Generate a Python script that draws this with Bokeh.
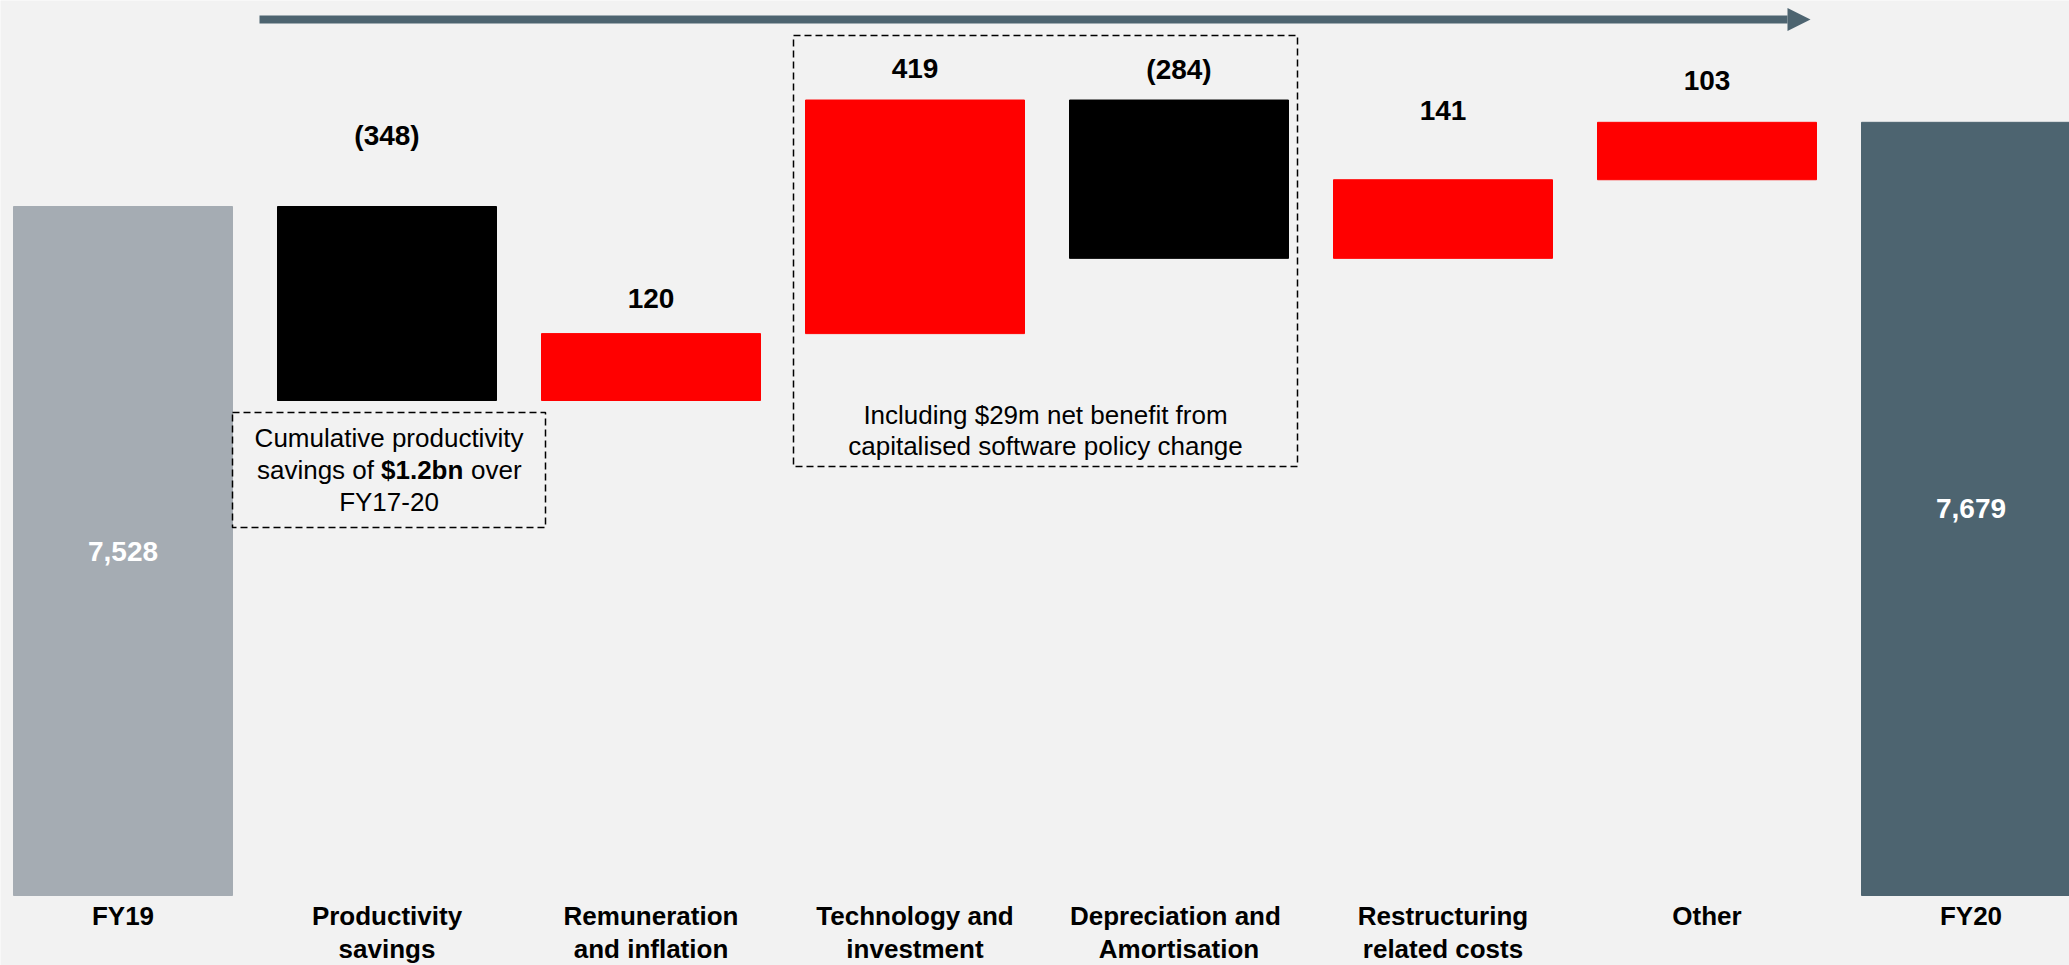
from bokeh.plotting import figure
from bokeh.models import Range1d, FixedTicker, BoxAnnotation, Arrow, NormalHead, ColumnDataSource
from bokeh.core.properties import value
from bokeh.embed import file_html
from bokeh.resources import INLINE

# ---------------- data ----------------
categories = ["FY19", "Productivity\nsavings", "Remuneration\nand inflation",
              "Technology and\ninvestment", "Depreciation  and\nAmortisation",
              "Restructuring\nrelated costs", "Other", "FY20"]
start_total = 7528
changes = [-348, 120, 419, -284, 141, 103]
end_total = 7679
value_labels = ["7,528", "(348)", "120", "419", "(284)", "141", "103", "7,679"]

# ---------------- layout / style ----------------
W, H = 2069, 965
UNIT_PX = 0.5575         # px per $m
STEP_PX = 264            # px per category
X0_PAGE = 122.5          # page x of first category centre
Y_TOP = 7528 + 206 / UNIT_PX   # value at top edge of the frame

def xv(px):
    return (px - X0_PAGE) / STEP_PX

def yv(px):
    return Y_TOP - px / UNIT_PX

BASE = yv(895)           # visual base of the total bars (broken axis)

BG = "#f2f2f2"
C_START = "#a5acb3"
C_END = "#4d6470"
C_UP = "#ff0000"
C_DOWN = "#000000"
FONT = "Liberation Sans"

# ---------------- build bars ----------------
xs, bottoms, tops, colors = [], [], [], []
xs.append(0); bottoms.append(BASE); tops.append(start_total); colors.append(C_START)
level = start_total
for i, c in enumerate(changes):
    new = level + c
    xs.append(i + 1)
    bottoms.append(min(level, new)); tops.append(max(level, new))
    colors.append(C_UP if c > 0 else C_DOWN)
    level = new
xs.append(len(changes) + 1); bottoms.append(BASE); tops.append(end_total); colors.append(C_END)

bars = ColumnDataSource(dict(x=xs, bottom=bottoms, top=tops, color=colors))

p = figure(width=W, height=H, output_backend="svg", toolbar_location=None,
           x_range=Range1d(xv(0), xv(W)), y_range=Range1d(yv(H), yv(0)),
           y_axis_location=None, min_border=0)
p.background_fill_color = BG
p.border_fill_color = BG
p.outline_line_color = None
p.grid.visible = False

p.vbar(x="x", bottom="bottom", top="top", width=219 / STEP_PX, fill_color="color",
       line_color="color", source=bars)

# x axis with category labels, pinned at the base of the bars
ax = p.xaxis[0]
ax.fixed_location = BASE
ax.ticker = FixedTicker(ticks=list(range(len(categories))))
ax.major_label_overrides = {i: c for i, c in enumerate(categories)}
ax.axis_line_color = None
ax.major_tick_line_color = None
ax.minor_tick_line_color = None
ax.major_tick_out = 0
ax.major_tick_in = 0
ax.minor_tick_out = 0
ax.major_label_standoff = 5
ax.major_label_text_font = FONT
ax.major_label_text_font_style = "bold"
ax.major_label_text_font_size = "26px"
ax.major_label_text_line_height = 1.12
ax.major_label_text_color = "#000000"

# value labels
gap_px = [None, 71, 35, 32, 31, 69, 42, None]
lx, ly, lt, loff, lcol = [], [], [], [], []
for i in range(len(xs)):
    lx.append(xs[i]); lt.append(value_labels[i])
    if gap_px[i] is None:
        ly.append((bottoms[i] + tops[i]) / 2); loff.append(0); lcol.append("#ffffff")
    else:
        ly.append(tops[i]); loff.append(-gap_px[i]); lcol.append("#000000")
labels = ColumnDataSource(dict(x=lx, y=ly, text=lt, yoff=loff, color=lcol))
p.text(x="x", y="y", text="text", y_offset="yoff", text_color="color", source=labels,
       text_font=value(FONT), text_font_style="bold", text_font_size="28px",
       text_align="center", text_baseline="alphabetic")

# arrow on top
p.add_layout(Arrow(end=NormalHead(size=23, fill_color=C_END, line_color=C_END, line_width=0),
                   x_start=xv(259), y_start=yv(19), x_end=xv(1810), y_end=yv(19),
                   line_color=C_END, line_width=8))

# dashed annotation boxes
box1 = (xv(232), xv(545), yv(412), yv(527))
box2 = (xv(793), xv(1297), yv(35), yv(466))
for l, r, t, b in (box1, box2):
    p.add_layout(BoxAnnotation(left=l, right=r, top=t, bottom=b, fill_alpha=0,
                               line_color="#000000", line_alpha=1.0, line_dash="7 4",
                               line_width=1.5))

txt = dict(text_font=value(FONT), text_font_size="26px", text_color="#000000",
           text_baseline="alphabetic")
c1 = (box1[0] + box1[1]) / 2
p.text(x=[c1], y=[yv(437)], text=["Cumulative productivity"], text_align="center", **txt)
p.text(x=[c1], y=[yv(469)], text=["savings of"], text_align="right", x_offset=-15, **txt)
p.text(x=[c1], y=[yv(469)], text=["$1.2bn"], text_align="left", x_offset=-8,
       text_font_style="bold", **txt)
p.text(x=[c1], y=[yv(469)], text=["over"], text_align="left", x_offset=82, **txt)
p.text(x=[c1], y=[yv(501)], text=["FY17-20"], text_align="center", **txt)

c2 = (box2[0] + box2[1]) / 2
p.text(x=[c2, c2], y=[yv(414), yv(445)],
       text=["Including $29m net benefit from", "capitalised software policy change"],
       text_align="center", **txt)

open("out.html", "w").write(file_html(p, INLINE))
